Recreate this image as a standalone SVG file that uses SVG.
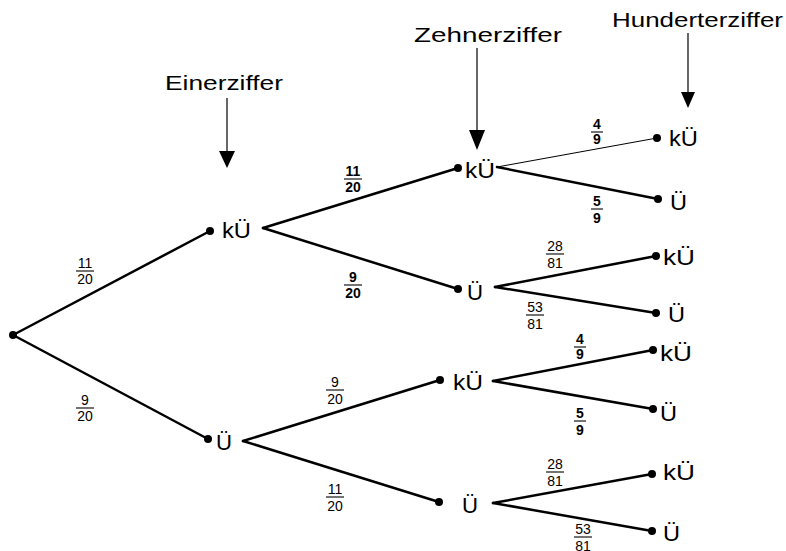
<svg xmlns="http://www.w3.org/2000/svg" width="786" height="551" viewBox="0 0 786 551">
<defs>
<style>
.br{stroke:#000;stroke-width:2.5;fill:none;stroke-linecap:round}
.thin{stroke:#000;stroke-width:1;fill:none}
.dot{fill:#000}
.nd{font-family:"Liberation Sans",Arial,sans-serif;font-size:22px;fill:#000}
.hd{font-family:"Liberation Sans",Arial,sans-serif;font-size:21px;fill:#000}
.fr{font-family:"Liberation Sans",Arial,sans-serif;font-size:14px;fill:#000;text-anchor:middle}
.frb{font-weight:bold}
.bar{stroke:#000;stroke-width:1.1}
.arr{stroke:#000;stroke-width:1.2}
</style>
</defs>
<rect width="786" height="551" fill="#fff"/>

<g id="headers">
<text class="hd" x="165" y="90" textLength="118" lengthAdjust="spacingAndGlyphs">Einerziffer</text>
<text class="hd" x="414" y="42" textLength="148" lengthAdjust="spacingAndGlyphs">Zehnerziffer</text>
<text class="hd" x="612" y="27" textLength="171" lengthAdjust="spacingAndGlyphs">Hunderterziffer</text>
<line class="arr" x1="227" y1="98" x2="227" y2="152"/><polygon points="219,151 235,151 227,168"/>
<line class="arr" x1="477" y1="48" x2="477" y2="131"/><polygon points="469,130 485,130 477,150"/>
<line class="arr" x1="688" y1="33" x2="688" y2="93"/><polygon points="681,92 695,92 688,108"/>
</g>

<g id="connectors">
<line class="br" x1="13" y1="335" x2="210" y2="231"/>
<line class="br" x1="13" y1="335" x2="208" y2="439"/>
<line class="br" x1="263" y1="228" x2="458" y2="168"/>
<line class="br" x1="263" y1="228" x2="458" y2="289"/>
<line class="thin" x1="497" y1="167" x2="657" y2="138"/>
<line class="br" x1="497" y1="167" x2="658" y2="199"/>
<line class="br" x1="495" y1="287" x2="656" y2="256"/>
<line class="br" x1="495" y1="287" x2="656" y2="313"/>
<line class="br" x1="243" y1="441" x2="440" y2="380"/>
<line class="br" x1="243" y1="441" x2="439" y2="502"/>
<line class="br" x1="493" y1="381" x2="653" y2="350"/>
<line class="br" x1="493" y1="381" x2="653" y2="409"/>
<line class="br" x1="493" y1="503" x2="652" y2="474"/>
<line class="br" x1="493" y1="503" x2="652" y2="531"/>
</g>

<g id="root"><circle class="dot" cx="13" cy="335" r="4"/></g>

<g id="n1_kU"><circle class="dot" cx="210" cy="231" r="4"/><text class="nd" x="222" y="238" textLength="29" lengthAdjust="spacingAndGlyphs">kÜ</text></g>
<g id="n1_U"><circle class="dot" cx="208" cy="439" r="4"/><text class="nd" x="216" y="450" textLength="16" lengthAdjust="spacingAndGlyphs">Ü</text></g>

<g id="n2_kU_kU"><circle class="dot" cx="458" cy="168" r="4"/><text class="nd" x="465" y="178" textLength="30" lengthAdjust="spacingAndGlyphs">kÜ</text></g>
<g id="n2_kU_U"><circle class="dot" cx="458" cy="289" r="4"/><text class="nd" x="467" y="300" textLength="16" lengthAdjust="spacingAndGlyphs">Ü</text></g>
<g id="n2_U_kU"><circle class="dot" cx="440" cy="380" r="4"/><text class="nd" x="453" y="390" textLength="30" lengthAdjust="spacingAndGlyphs">kÜ</text></g>
<g id="n2_U_U"><circle class="dot" cx="439" cy="502" r="4"/><text class="nd" x="462" y="513" textLength="16" lengthAdjust="spacingAndGlyphs">Ü</text></g>

<g id="n3_1"><circle class="dot" cx="657" cy="138" r="4"/><text class="nd" x="669" y="146" textLength="29" lengthAdjust="spacingAndGlyphs">kÜ</text></g>
<g id="n3_2"><circle class="dot" cx="658" cy="199" r="4"/><text class="nd" x="670" y="210" textLength="17" lengthAdjust="spacingAndGlyphs">Ü</text></g>
<g id="n3_3"><circle class="dot" cx="656" cy="256" r="4"/><text class="nd" x="663" y="265" textLength="32" lengthAdjust="spacingAndGlyphs">kÜ</text></g>
<g id="n3_4"><circle class="dot" cx="656" cy="313" r="4"/><text class="nd" x="668" y="322" textLength="17" lengthAdjust="spacingAndGlyphs">Ü</text></g>
<g id="n3_5"><circle class="dot" cx="653" cy="350" r="4"/><text class="nd" x="660" y="361" textLength="32" lengthAdjust="spacingAndGlyphs">kÜ</text></g>
<g id="n3_6"><circle class="dot" cx="653" cy="409" r="4"/><text class="nd" x="660" y="421" textLength="17" lengthAdjust="spacingAndGlyphs">Ü</text></g>
<g id="n3_7"><circle class="dot" cx="652" cy="474" r="4"/><text class="nd" x="663" y="480" textLength="32" lengthAdjust="spacingAndGlyphs">kÜ</text></g>
<g id="n3_8"><circle class="dot" cx="652" cy="531" r="4"/><text class="nd" x="663" y="541" textLength="17" lengthAdjust="spacingAndGlyphs">Ü</text></g>

<g id="labels">
<text class="fr" x="85" y="268">11</text><line class="bar" x1="76" y1="271" x2="94" y2="271"/><text class="fr" x="85" y="284">20</text>
<text class="fr" x="85" y="405">9</text><line class="bar" x1="76" y1="408" x2="94" y2="408"/><text class="fr" x="85" y="421">20</text>

<text class="fr frb" x="353" y="176">11</text><line class="bar" x1="344" y1="179" x2="362" y2="179"/><text class="fr frb" x="353" y="192">20</text>
<text class="fr frb" x="353" y="282">9</text><line class="bar" x1="344" y1="285" x2="362" y2="285"/><text class="fr frb" x="353" y="298">20</text>

<text class="fr frb" x="597" y="129">4</text><line class="bar" x1="591" y1="132" x2="603" y2="132"/><text class="fr frb" x="597" y="144">9</text>
<text class="fr frb" x="597" y="206">5</text><line class="bar" x1="591" y1="209" x2="603" y2="209"/><text class="fr frb" x="597" y="223">9</text>

<text class="fr" x="555" y="251">28</text><line class="bar" x1="546" y1="254" x2="564" y2="254"/><text class="fr" x="555" y="268">81</text>
<text class="fr" x="535" y="312">53</text><line class="bar" x1="526" y1="315" x2="544" y2="315"/><text class="fr" x="535" y="329">81</text>

<text class="fr" x="335" y="387">9</text><line class="bar" x1="326" y1="390" x2="344" y2="390"/><text class="fr" x="335" y="404">20</text>
<text class="fr" x="335" y="494">11</text><line class="bar" x1="326" y1="497" x2="344" y2="497"/><text class="fr" x="335" y="511">20</text>

<text class="fr frb" x="580" y="344">4</text><line class="bar" x1="574" y1="347" x2="586" y2="347"/><text class="fr frb" x="580" y="359">9</text>
<text class="fr frb" x="580" y="418">5</text><line class="bar" x1="574" y1="421" x2="586" y2="421"/><text class="fr frb" x="580" y="435">9</text>

<text class="fr" x="555" y="469">28</text><line class="bar" x1="546" y1="472" x2="564" y2="472"/><text class="fr" x="555" y="486">81</text>
<text class="fr" x="583" y="534">53</text><line class="bar" x1="574" y1="537" x2="592" y2="537"/><text class="fr" x="583" y="551">81</text>
</g>
</svg>
